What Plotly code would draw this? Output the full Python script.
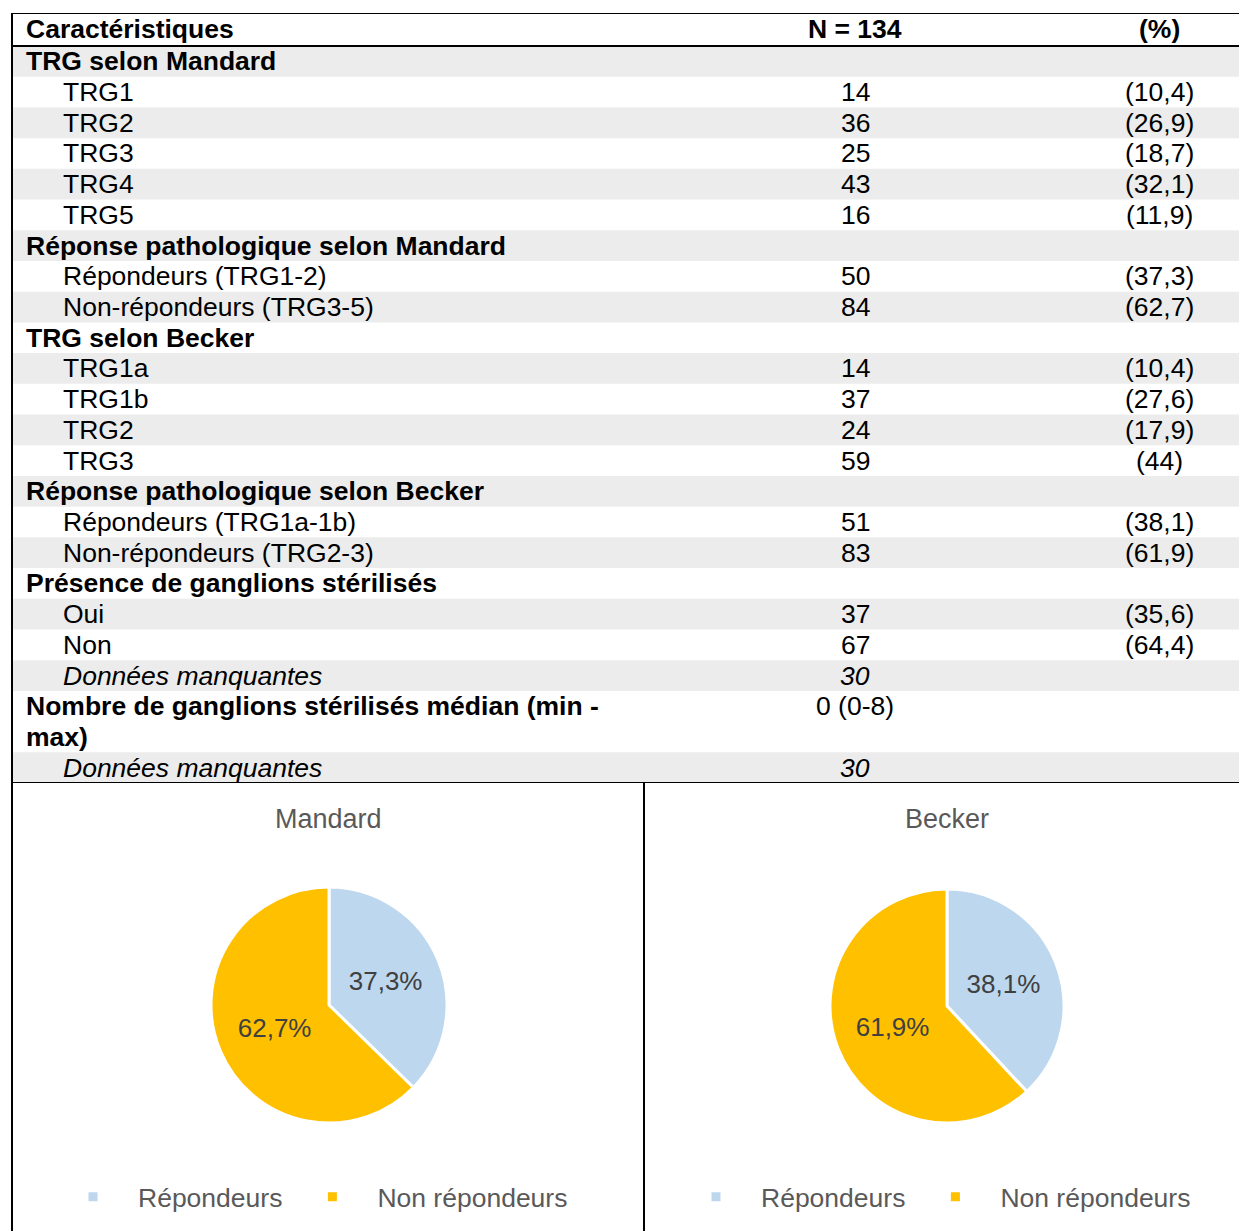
import plotly.graph_objects as go

# ---------------- data ----------------
header = ["Caractéristiques", "N = 134", "(%)"]

labels = ["TRG selon Mandard", "TRG1", "TRG2", "TRG3", "TRG4", "TRG5",
          "Réponse pathologique selon Mandard", "Répondeurs (TRG1-2)", "Non-répondeurs (TRG3-5)",
          "TRG selon Becker", "TRG1a", "TRG1b", "TRG2", "TRG3",
          "Réponse pathologique selon Becker", "Répondeurs (TRG1a-1b)", "Non-répondeurs (TRG2-3)",
          "Présence de ganglions stérilisés", "Oui", "Non", "Données manquantes",
          "Nombre de ganglions stérilisés médian (min -<br>max)", "Données manquantes"]
counts = ["", "14", "36", "25", "43", "16", "", "50", "84", "", "14", "37", "24", "59",
          "", "51", "83", "", "37", "67", "30", "0 (0-8)", "30"]
pcts = ["", "(10,4)", "(26,9)", "(18,7)", "(32,1)", "(11,9)", "", "(37,3)", "(62,7)", "",
        "(10,4)", "(27,6)", "(17,9)", "(44)", "", "(38,1)", "(61,9)", "", "(35,6)", "(64,4)",
        "", "", ""]
# h = section (bold), i = item, m = missing data (italic)
kinds = ["h", "i", "i", "i", "i", "i", "h", "i", "i", "h", "i", "i", "i", "i",
         "h", "i", "i", "h", "i", "i", "m", "h", "m"]

pie_labels = ["Répondeurs", "Non répondeurs"]
mandard_vals = [50, 84]
becker_vals = [51, 83]

# ---------------- layout constants ----------------
W, H = 1239, 1231
FONT = "Liberation Sans, Arial, sans-serif"
FS = 26.5
GRAY = "#ececec"
T_TOP, T_HEAD, T_BOT = 13, 46, 783
LEFT, DIV = 12, 644
n_units = sum(l.count("<br>") + 1 for l in labels)
row_px = (T_BOT - T_HEAD) / n_units
hdr = (T_HEAD - T_TOP) / row_px
COL_SEC, COL_ITEM, COL_N, COL_P = 24, 61, 855, 1159

fig = go.Figure()
shapes = []
annots = []

# header
annots.append(dict(x=COL_SEC, y=-hdr / 2, text="<b>%s</b>" % header[0], xanchor="left"))
annots.append(dict(x=COL_N, y=-hdr / 2, text="<b>%s</b>" % header[1], xanchor="center"))
annots.append(dict(x=COL_P, y=-hdr / 2, text="<b>%s</b>" % header[2], xanchor="center"))

# body rows
start = 0
for i, lab in enumerate(labels):
    lines = lab.split("<br>")
    n = len(lines)
    if i % 2 == 0:
        shapes.append(dict(type="rect", xref="x", yref="y", x0=LEFT + 1, x1=W, y0=start, y1=start + n,
                           fillcolor=GRAY, line=dict(width=0), layer="below"))
    for k, ln in enumerate(lines):
        if kinds[i] == "h":
            txt, xx = "<b>%s</b>" % ln, COL_SEC
        elif kinds[i] == "m":
            txt, xx = "<i>%s</i>" % ln, COL_ITEM
        else:
            txt, xx = ln, COL_ITEM
        annots.append(dict(x=xx, y=start + k + 0.5, text=txt, xanchor="left"))
    if counts[i]:
        t = "<i>%s</i>" % counts[i] if kinds[i] == "m" else counts[i]
        annots.append(dict(x=COL_N, y=start + 0.5, text=t, xanchor="center"))
    if pcts[i]:
        annots.append(dict(x=COL_P, y=start + 0.5, text=pcts[i], xanchor="center"))
    start += n

for a in annots:
    a.update(xref="x", yref="y", yanchor="middle", showarrow=False,
             font=dict(family=FONT, size=FS, color="black"))

# borders
line = dict(color="black", width=2)
shapes += [
    dict(type="line", xref="x", yref="y", x0=LEFT, x1=W, y0=-hdr, y1=-hdr, line=line),
    dict(type="line", xref="x", yref="y", x0=LEFT, x1=W, y0=0, y1=0, line=line),
    dict(type="line", xref="x", yref="y", x0=LEFT, x1=W, y0=n_units, y1=n_units, line=line),
    dict(type="line", xref="x", yref="paper", x0=LEFT, x1=LEFT, y0=0, y1=1 - T_TOP / H, line=line),
    dict(type="line", xref="x", yref="paper", x0=DIV, x1=DIV, y0=0, y1=1 - T_BOT / H, line=line),
]

# pies
def pie_domain(cx, cy, r):
    return dict(x=[(cx - r) / W, (cx + r) / W], y=[1 - (cy + r) / H, 1 - (cy - r) / H])

pie_style = dict(sort=False, direction="clockwise", rotation=0, textinfo="percent",
                 texttemplate="%{percent:.1%}", insidetextorientation="horizontal",
                 textfont=dict(family=FONT, size=26, color="#404040"),
                 marker=dict(colors=["#bdd7ee", "#ffc000"], line=dict(color="white", width=3)))
fig.add_trace(go.Pie(labels=pie_labels, values=mandard_vals, domain=pie_domain(329, 1005, 118),
                     legend="legend", **pie_style))
# zero-width suffix so the second legend keeps its own entries
fig.add_trace(go.Pie(labels=[l + "\u200b" for l in pie_labels], values=becker_vals,
                     domain=pie_domain(947, 1006, 117), legend="legend2", **pie_style))

for name, x in [("Mandard", 328), ("Becker", 947)]:
    annots.append(dict(x=x / W, y=1 - 819 / H, xref="paper", yref="paper", text=name,
                       showarrow=False, xanchor="center", yanchor="middle",
                       font=dict(family=FONT, size=27, color="#595959")))

leg = dict(orientation="h", yanchor="middle", y=1 - 1197 / H, xanchor="left",
           font=dict(family=FONT, size=26.5, color="#595959"), itemwidth=80,
           bgcolor="rgba(0,0,0,0)", traceorder="normal")

fig.update_layout(
    width=W, height=H, margin=dict(l=0, r=0, t=0, b=0),
    paper_bgcolor="white", plot_bgcolor="rgba(0,0,0,0)",
    separators=", ",
    xaxis=dict(range=[0, W], domain=[0, 1], visible=False, fixedrange=True),
    yaxis=dict(range=[n_units, -hdr], domain=[1 - T_BOT / H, 1 - T_TOP / H], visible=False,
               fixedrange=True),
    shapes=shapes, annotations=annots,
    legend=dict(leg, x=(93 - 45) / W),
    legend2=dict(leg, x=(716 - 45) / W),
)

# drop the default page margin so the figure sits at the window corner
fig.write_html("out.html", config={"displayModeBar": False},
               post_script="document.body.style.margin='0';")
